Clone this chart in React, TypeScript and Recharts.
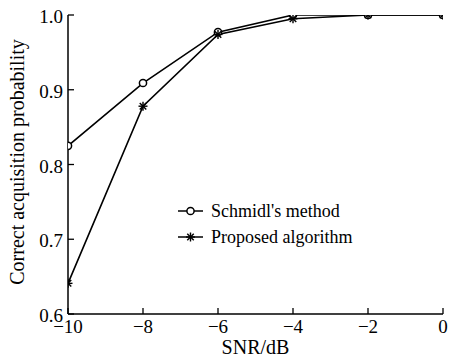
import React from 'react';
import { LineChart, Line, XAxis, YAxis, Legend } from 'recharts';

const snrValues = [-10, -8, -6, -4, -2, 0];
const schmidlValues = [0.825, 0.909, 0.977, 1.0, 1.0, 1.0];
const proposedValues = [0.641, 0.878, 0.974, 0.995, 1.0, 1.0];
const yTicks = [0.6, 0.7, 0.8, 0.9, 1.0];
const seriesNames = ["Schmidl's method", 'Proposed algorithm'];

const data = snrValues.map((snr, i) => ({
  snr,
  schmidl: schmidlValues[i],
  proposed: proposedValues[i],
}));

const FONT = '"Liberation Serif", "Times New Roman", serif';

const CircleDot = (props: any) => {
  const { cx, cy } = props;
  if (cx == null || cy == null) return null;
  return <circle cx={cx} cy={cy} r={3.6} fill="#fff" stroke="#000" strokeWidth={1.5} />;
};

const Asterisk = ({ cx, cy, s = 4.5 }: any) => {
  const d = s * 0.72;
  return (
    <g stroke="#000" strokeWidth={1.4}>
      <line x1={cx} y1={cy - s} x2={cx} y2={cy + s} />
      <line x1={cx - s} y1={cy} x2={cx + s} y2={cy} />
      <line x1={cx - d} y1={cy - d} x2={cx + d} y2={cy + d} />
      <line x1={cx - d} y1={cy + d} x2={cx + d} y2={cy - d} />
    </g>
  );
};

const StarDot = (props: any) => {
  const { cx, cy } = props;
  if (cx == null || cy == null) return null;
  return <Asterisk cx={cx} cy={cy} />;
};

const XTick = (props: any) => {
  const { x, y, payload } = props;
  const v = payload.value as number;
  const label = v < 0 ? '\u2212' + Math.abs(v) : String(v);
  return (
    <g>
      <line x1={x} y1={y} x2={x} y2={y - 6} stroke="#000" strokeWidth={1.3} />
      <text x={x} y={y + 19} textAnchor="middle" fontFamily={FONT} fontSize={19} fill="#000">
        {label}
      </text>
    </g>
  );
};

const YTick = (props: any) => {
  const { x, y, payload } = props;
  const v = payload.value as number;
  return (
    <g>
      <line x1={x} y1={y} x2={x + 6} y2={y} stroke="#000" strokeWidth={1.3} />
      <text x={x - 5} y={y + 8} textAnchor="end" fontFamily={FONT} fontSize={19} fill="#000">
        {v.toFixed(1)}
      </text>
    </g>
  );
};

const YLabel = () => (
  <text
    x={24}
    y={162}
    transform="rotate(-90, 24, 162)"
    textAnchor="middle"
    fontFamily={FONT}
    fontSize={20}
    fill="#000"
  >
    Correct acquisition probability
  </text>
);

const LegendContent = () => (
  <svg width={200} height={55} style={{ display: 'block', overflow: 'visible' }}>
    <line x1={3} y1={13} x2={28} y2={13} stroke="#000" strokeWidth={1.5} />
    <circle cx={15.5} cy={13} r={3.6} fill="#fff" stroke="#000" strokeWidth={1.5} />
    <text x={36} y={19} fontFamily={FONT} fontSize={18} fill="#000">
      {seriesNames[0]}
    </text>
    <line x1={3} y1={39} x2={28} y2={39} stroke="#000" strokeWidth={1.5} />
    <Asterisk cx={15.5} cy={39} s={4.5} />
    <text x={36} y={45} fontFamily={FONT} fontSize={18} fill="#000">
      {seriesNames[1]}
    </text>
  </svg>
);

export default function App() {
  return (
    <div style={{ position: 'absolute', left: 0, top: 0, width: 450, height: 359, background: '#fff' }}>
      <LineChart
        width={450}
        height={359}
        data={data}
        margin={{ top: 15, right: 7, bottom: 0, left: 0 }}
      >
        <XAxis
          type="number"
          dataKey="snr"
          domain={[-10, 0]}
          ticks={snrValues}
          allowDataOverflow
          height={45}
          tickSize={0}
          tickMargin={0}
          tick={<XTick />}
          axisLine={{ stroke: '#000', strokeWidth: 1.5 }}
          label={{ value: 'SNR/dB', position: 'insideBottom', offset: 5, fontFamily: FONT, fontSize: 20, fill: '#000' }}
        />
        <YAxis
          type="number"
          domain={[0.6, 1.0]}
          ticks={yTicks}
          allowDataOverflow
          width={68}
          tickSize={0}
          tickMargin={0}
          tick={<YTick />}
          axisLine={{ stroke: '#000', strokeWidth: 1.5 }}
          label={<YLabel />}
        />
        <Legend
          layout="vertical"
          align="center"
          verticalAlign="middle"
          content={<LegendContent />}
          wrapperStyle={{ position: 'absolute', left: 175, top: 198, width: 200, height: 55 }}
        />
        <Line
          name={seriesNames[0]}
          dataKey="schmidl"
          stroke="#000"
          strokeWidth={1.6}
          dot={<CircleDot />}
          activeDot={false}
          isAnimationActive={false}
        />
        <Line
          name={seriesNames[1]}
          dataKey="proposed"
          stroke="#000"
          strokeWidth={1.6}
          dot={<StarDot />}
          activeDot={false}
          isAnimationActive={false}
        />
      </LineChart>
    </div>
  );
}
